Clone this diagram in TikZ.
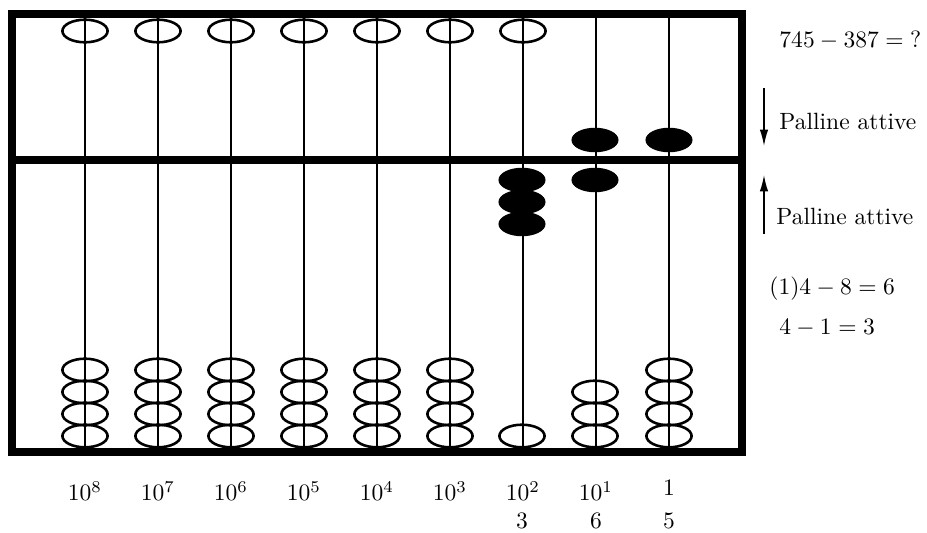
\documentclass[tikz,border=0pt]{standalone}
\usetikzlibrary{arrows.meta,shapes.geometric}
\begin{document}
\begin{tikzpicture}[x=0.425pt,y=-0.425pt,
  frame/.style={line width=3pt},
  rod/.style={line width=0.5pt},
  bead/.style={draw, ellipse, line width=1.1pt, minimum width=19.2pt, minimum height=9.6pt, inner sep=0pt},
  fbead/.style={draw, fill=black, ellipse, line width=0.4pt, minimum width=19.6pt, minimum height=10pt, inner sep=0pt},
  lbl/.style={inner sep=0pt, font=\normalsize},
  arr/.style={line width=0.6pt, -{Latex[length=7pt,width=3.6pt]}}]
\useasboundingbox (0,0) rectangle (927,533);
% rods
\foreach \i in {0,...,8} {
  \coordinate (rt\i) at ({85+73*\i},14);
  \coordinate (rb\i) at ({85+73*\i},452);
  \draw[rod] (rt\i) -- (rb\i);
}
% upper hollow beads
\foreach \i in {0,...,6} {
  \node[bead] (u\i) at ({85+73*\i},31) {};
}
% lower hollow beads, four per rod
\foreach \i in {0,...,5,8} {
  \foreach \j [count=\k] in {436,414,392,370} {
    \node[bead] (l\i-\k) at ({85+73*\i},\j) {};
  }
}
\node[bead] (l6-1) at (522,436) {};
\foreach \j [count=\k] in {436,414,392} {
  \node[bead] (l7-\k) at (595,\j) {};
}
% active (filled) beads
\node[fbead] (a6-1) at (522,180) {};
\node[fbead] (a6-2) at (522,202) {};
\node[fbead] (a6-3) at (522,224) {};
\node[fbead] (a7-1) at (595,180) {};
\node[fbead] (h7) at (595,140) {};
\node[fbead] (h8) at (669,140) {};
% frame
\draw[frame] (12,14) rectangle (742,452);
\draw[frame, line width=3.4pt] (12,160) -- (742,160);
% labels below
\foreach \i/\e in {0/8,1/7,2/6,3/5,4/4,5/3,6/2,7/1} {
  \node[lbl] (p\i) at ({85+73*\i},491) {$10^{\e}$};
}
\node[lbl] (p8) at (669,488) {$1$};
\node[lbl] (n6) at (522,521) {$3$};
\node[lbl] (n7) at (596,521) {$6$};
\node[lbl] (n8) at (669,521) {$5$};
% right side
\node[lbl, anchor=west] (eq) at (779,40) {$745-387=\mathord{?}$};
\coordinate (d1) at (764,88);
\coordinate (d2) at (764,146);
\draw[arr] (d1) -- (d2);
\node[lbl, anchor=west] (pa1) at (779,121) {Palline attive};
\coordinate (u1) at (764,234);
\coordinate (u2) at (764,175);
\draw[arr] (u1) -- (u2);
\node[lbl, anchor=west] (pa2) at (776,216) {Palline attive};
\node[lbl, anchor=west] (s1) at (769,289) {$(1)4-8=6$};
\node[lbl, anchor=west] (s2) at (779,328) {$4-1=3$};
\end{tikzpicture}
\end{document}
